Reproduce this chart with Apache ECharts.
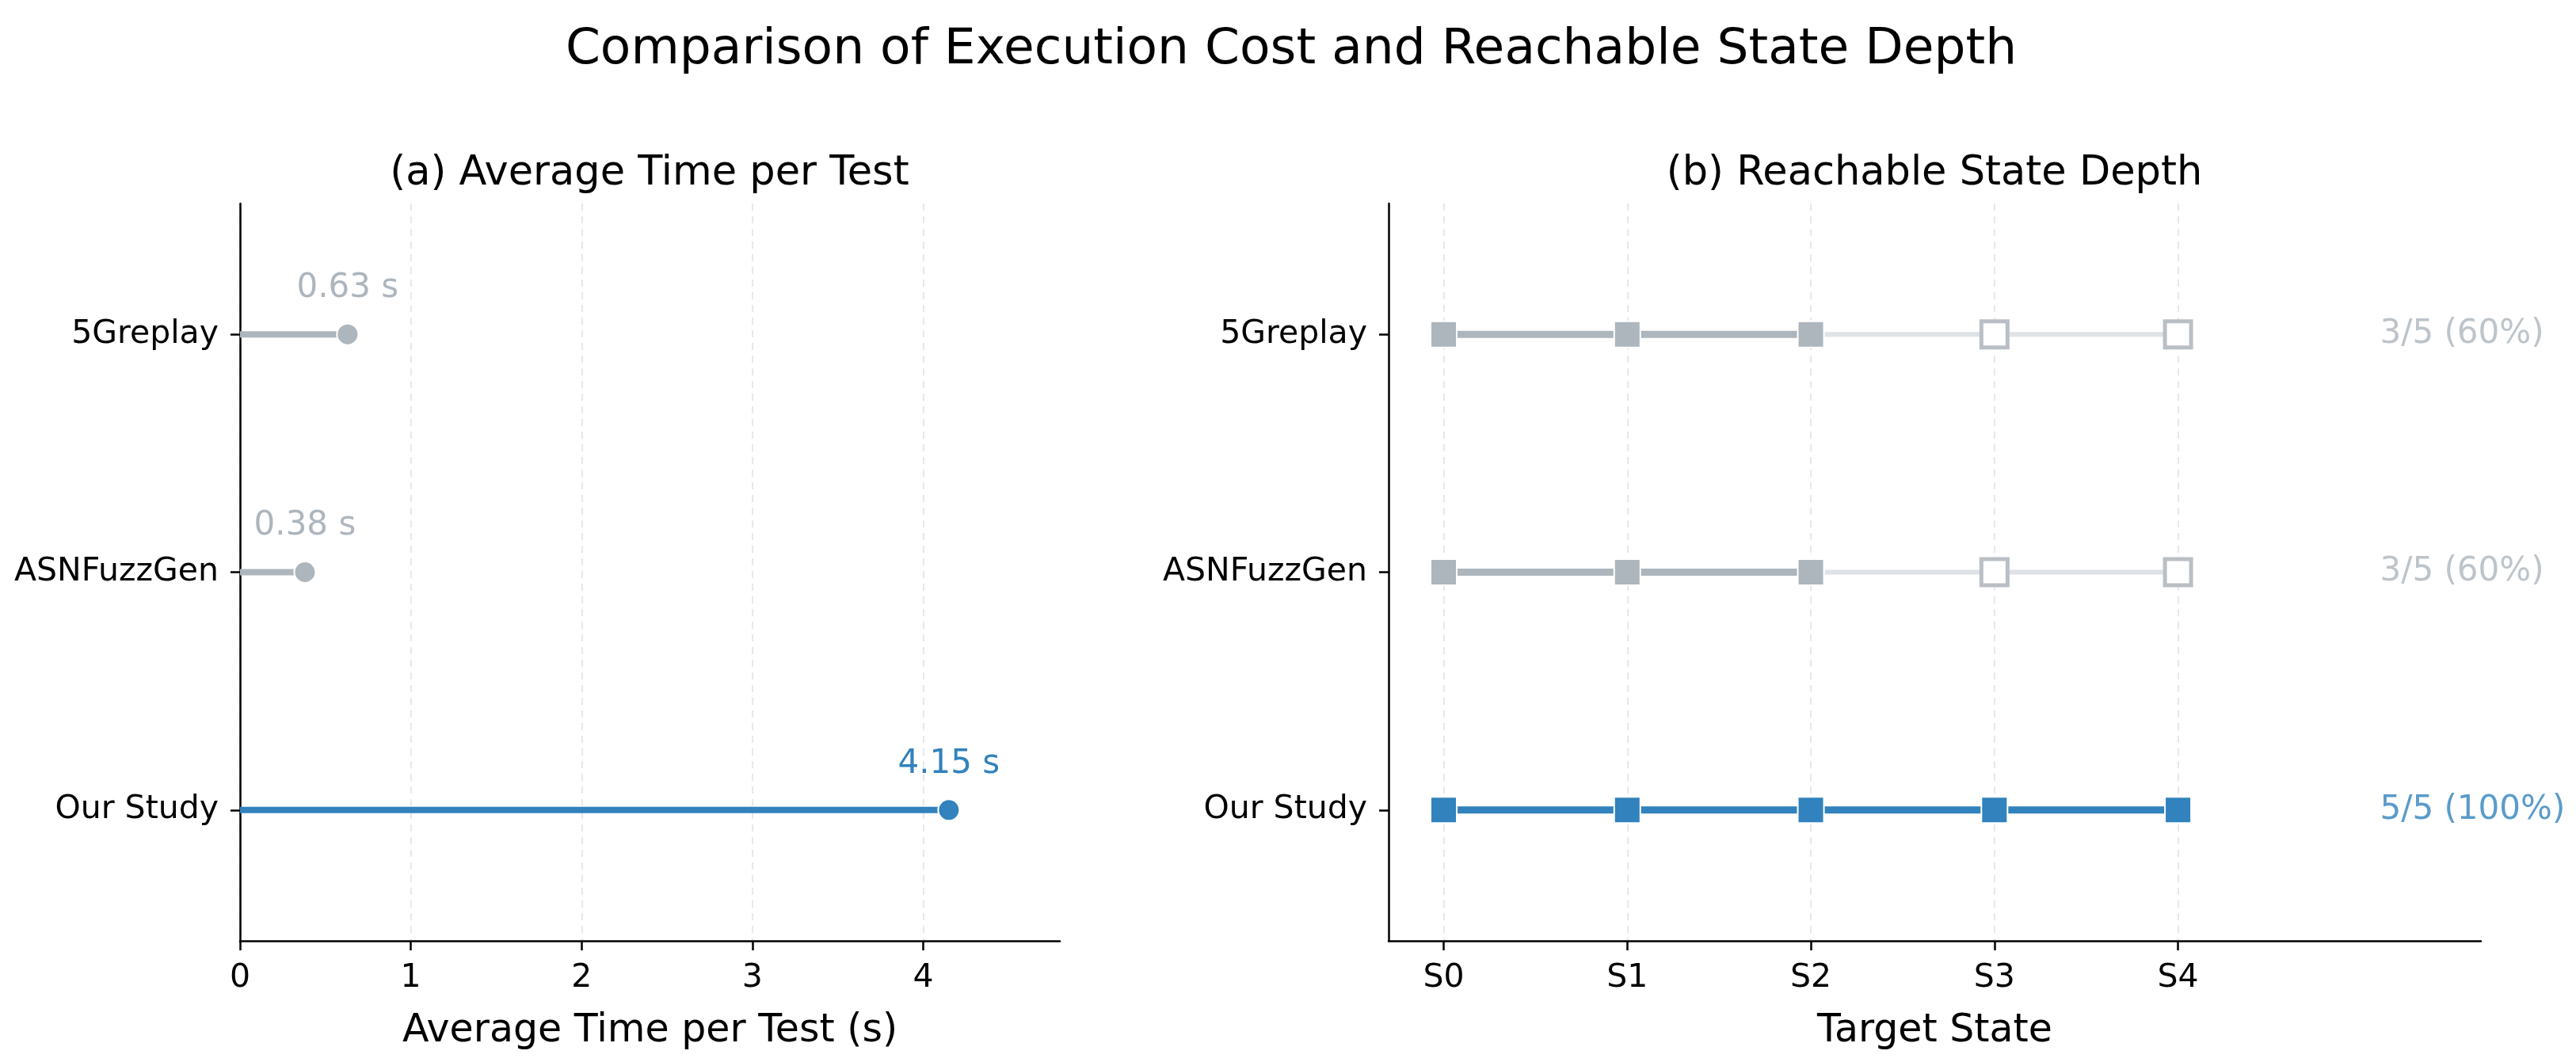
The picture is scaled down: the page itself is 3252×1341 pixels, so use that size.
<!DOCTYPE html>
<html>
<head>
<meta charset="utf-8">
<script src="https://cdn.jsdelivr.net/npm/echarts@6/dist/echarts.min.js"></script>
<style>
  html, body { margin: 0; padding: 0; background: #fff; }
  #chart { width: 3252px; height: 1341px; }
</style>
</head>
<body>
<div id="chart"></div>
<script>
// Tools compared
const tools = ['5Greplay', 'ASNFuzzGen', 'Our Study'];
// (a) average time per test, seconds
const avgTime = [0.63, 0.38, 4.15];
// (b) target states and how many each tool reaches
const states = ['S0', 'S1', 'S2', 'S3', 'S4'];
const reachedCount = [3, 3, 5];
// colours per tool
const toolColors = ['#adb5bd', '#adb5bd', '#3182bd'];

const FONT = 'DejaVu Sans';
const GREY_LIGHT = '#dee2e6';
const HOLLOW_EDGE = '#b9bfc5';
const LABEL_X = 5.1;

const chart = echarts.init(document.getElementById('chart'), null, { renderer: 'canvas' });

function yAxisFor(gridIndex) {
    return {
        type: 'value',
        gridIndex: gridIndex,
        inverse: true,
        min: -0.55,
        max: 2.55,
        axisLine: { show: true, onZero: false, lineStyle: { color: '#000', width: 2.5 } },
        axisTick: { show: true, length: 12, lineStyle: { color: '#000', width: 2.5 }, customValues: [0, 1, 2] },
        axisLabel: {
            customValues: [0, 1, 2],
            formatter: (v) => tools[v],
            fontFamily: FONT, fontSize: 41, color: '#000', margin: 27
        },
        splitLine: { show: false }
    };
}

const gridLine = { show: true, lineStyle: { color: '#e6e8ea', width: 2, type: [9, 7] } };

const series = [];

// (a) lollipops
tools.forEach((tool, i) => {
    series.push({
        type: 'line',
        xAxisIndex: 0,
        yAxisIndex: 0,
        z: 3,
        lineStyle: { color: toolColors[i], width: 8 },
        itemStyle: { color: toolColors[i], borderColor: '#fff', borderWidth: 2 },
        data: [
            { value: [0, i], symbol: 'none' },
            {
                value: [avgTime[i], i],
                symbol: 'circle',
                symbolSize: 27,
                label: {
                    show: true,
                    position: 'inside',
                    offset: [0, -58],
                    formatter: avgTime[i].toFixed(2) + ' s',
                    fontFamily: FONT, fontSize: 42, color: toolColors[i]
                }
            }
        ]
    });
});

// (b) state progress
tools.forEach((tool, i) => {
    const n = reachedCount[i];
    const reachedPts = states.slice(0, n).map((s, k) => [k, i]);
    const missedPts = states.slice(n).map((s, k) => [n + k, i]);

    if (n < states.length) {
        series.push({
            type: 'line', xAxisIndex: 1, yAxisIndex: 1, z: 2,
            symbol: 'none',
            lineStyle: { color: GREY_LIGHT, width: 6 },
            data: [[n - 1, i]].concat(missedPts)
        });
    }
    series.push({
        type: 'line', xAxisIndex: 1, yAxisIndex: 1, z: 3,
        symbol: 'none',
        lineStyle: { color: toolColors[i], width: 9 },
        data: reachedPts
    });
    series.push({
        type: 'scatter', xAxisIndex: 1, yAxisIndex: 1, z: 4,
        symbol: 'rect', symbolSize: 33,
        itemStyle: { color: toolColors[i], borderColor: '#fff', borderWidth: 2, opacity: 1 },
        data: reachedPts
    });
    if (missedPts.length) {
        series.push({
            type: 'scatter', xAxisIndex: 1, yAxisIndex: 1, z: 4,
            symbol: 'rect', symbolSize: 33,
            itemStyle: { color: '#fff', borderColor: HOLLOW_EDGE, borderWidth: 5, opacity: 1 },
            data: missedPts
        });
    }
    const pct = Math.round(n / states.length * 100);
    series.push({
        type: 'scatter', xAxisIndex: 1, yAxisIndex: 1, z: 5,
        symbolSize: 0,
        label: {
            show: true, position: 'right', distance: 0,
            formatter: `${n}/${states.length} (${pct}%)`,
            fontFamily: FONT, fontSize: 42, color: toolColors[i]
        },
        data: [[LABEL_X, i]]
    });
});

const option = {
    animation: false,
    backgroundColor: '#fff',
    textStyle: { fontFamily: FONT },
    graphic: [
        { type: 'text', x: 1630, y: 64, style: { text: 'Comparison of Execution Cost and Reachable State Depth', font: '63px "DejaVu Sans"', fill: '#000', align: 'center', verticalAlign: 'middle' } },
        { type: 'text', x: 820, y: 220, style: { text: '(a) Average Time per Test', font: '51px "DejaVu Sans"', fill: '#000', align: 'center', verticalAlign: 'middle' } },
        { type: 'text', x: 2442, y: 220, style: { text: '(b) Reachable State Depth', font: '51px "DejaVu Sans"', fill: '#000', align: 'center', verticalAlign: 'middle' } }
    ],
    grid: [
        { left: 303, top: 257, width: 1035, height: 931 },
        { left: 1753, top: 257, width: 1379, height: 931 }
    ],
    xAxis: [
        {
            type: 'value', gridIndex: 0, min: 0, max: 4.8,
            name: 'Average Time per Test (s)', nameLocation: 'middle', nameGap: 90,
            nameTextStyle: { fontFamily: FONT, fontSize: 49, color: '#000' },
            axisLine: { show: true, onZero: false, lineStyle: { color: '#000', width: 2.5 } },
            axisTick: { show: true, length: 12, lineStyle: { color: '#000', width: 2.5 }, customValues: [0, 1, 2, 3, 4] },
            axisLabel: { customValues: [0, 1, 2, 3, 4], fontFamily: FONT, fontSize: 41, color: '#000', margin: 27 },
            splitLine: gridLine
        },
        {
            type: 'value', gridIndex: 1, min: -0.3, max: 5.65,
            name: 'Target State', nameLocation: 'middle', nameGap: 90,
            nameTextStyle: { fontFamily: FONT, fontSize: 49, color: '#000' },
            axisLine: { show: true, onZero: false, lineStyle: { color: '#000', width: 2.5 } },
            axisTick: { show: true, length: 12, lineStyle: { color: '#000', width: 2.5 }, customValues: [0, 1, 2, 3, 4] },
            axisLabel: { customValues: [0, 1, 2, 3, 4], formatter: (v) => states[v], fontFamily: FONT, fontSize: 41, color: '#000', margin: 27 },
            splitLine: gridLine
        }
    ],
    yAxis: [yAxisFor(0), yAxisFor(1)],
    series: series
};

chart.setOption(option);
</script>
</body>
</html>
